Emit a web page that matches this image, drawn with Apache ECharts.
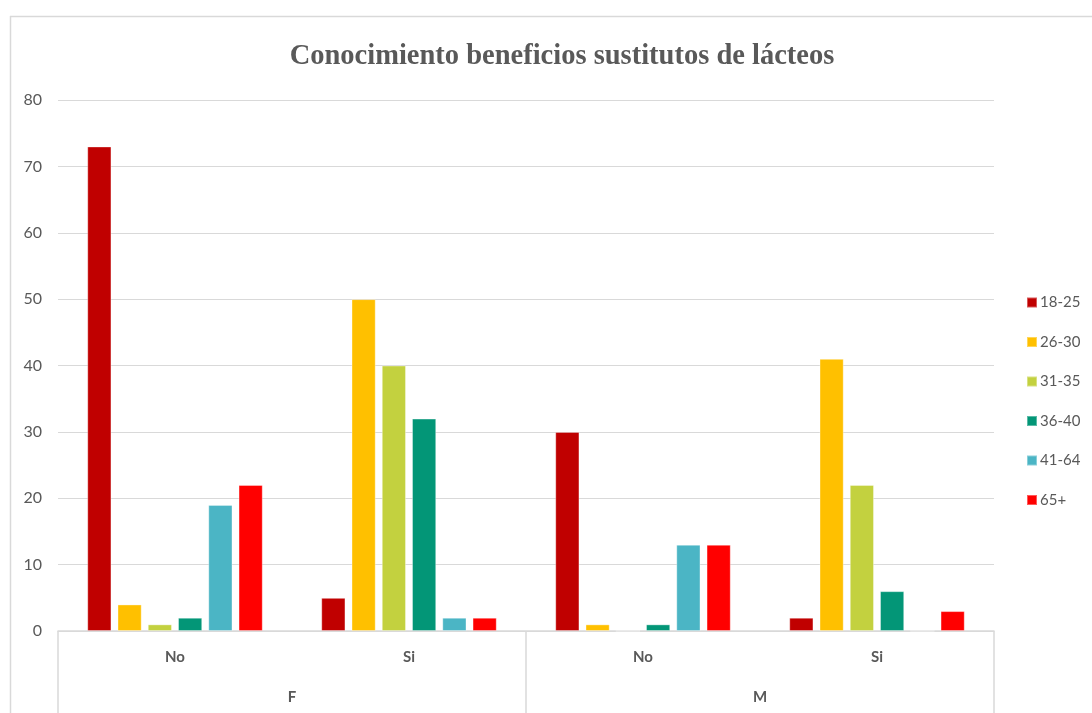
<!DOCTYPE html>
<html>
<head>
<meta charset="utf-8">
<title>Conocimiento beneficios sustitutos de lácteos</title>
<script src="https://cdn.jsdelivr.net/npm/echarts@6/dist/echarts.min.js"></script>
<style>
  html, body { margin: 0; padding: 0; background: #ffffff; }
  #chart { width: 1092px; height: 713px; }
</style>
</head>
<body>
<div id="chart"></div>
<script>
// Inner categories (answer) and outer groups (sex)
const answers = ['No', 'Si', 'No', 'Si'];
const sexGroups = ['F', 'M'];
const ageGroups = ['18-25', '26-30', '31-35', '36-40', '41-64', '65+'];

// Counts per age group, in order F-No, F-Si, M-No, M-Si
const age18_25 = [73, 5, 30, 2];
const age26_30 = [4, 50, 1, 41];
const age31_35 = [1, 40, 0, 22];
const age36_40 = [2, 32, 1, 6];
const age41_64 = [19, 2, 13, 0];
const age65plus = [22, 2, 13, 3];

const yTicks = { min: 0, max: 80, interval: 10 };

const seriesValues = [age18_25, age26_30, age31_35, age36_40, age41_64, age65plus];
const colors = ['#C00000', '#FFC000', '#C3D13F', '#039677', '#4BB5C5', '#FF0000'];

const chart = echarts.init(document.getElementById('chart'));
const textGray = '#595959';
const lineGray = '#D9D9D9';

chart.setOption({
  animation: false,
  color: colors,
  title: {
    text: 'Conocimiento beneficios sustitutos de lácteos',
    left: 557,
    textAlign: 'center',
    top: 37,
    textStyle: {
      fontFamily: 'Liberation Serif',
      fontWeight: 'bold',
      fontSize: 28.5,
      color: textGray
    }
  },
  graphic: [
    { type: 'line', shape: { x1: 10, y1: 16.5, x2: 1092, y2: 16.5 }, style: { stroke: lineGray, lineWidth: 1.5 } },
    { type: 'line', shape: { x1: 10.5, y1: 16, x2: 10.5, y2: 713 }, style: { stroke: lineGray, lineWidth: 1.5 } }
  ],
  legend: {
    orient: 'vertical',
    left: 1021,
    top: 290,
    itemWidth: 10,
    itemHeight: 10,
    itemGap: 24.5,
    icon: 'rect',
    textStyle: { fontFamily: 'Lato', fontSize: 15, color: textGray, padding: [0, 0, 0, -2] },
    data: ageGroups
  },
  grid: { left: 58, right: 98, top: 100, bottom: 82, containLabel: false },
  xAxis: [
    {
      type: 'category',
      data: answers,
      position: 'bottom',
      axisLine: { show: true, lineStyle: { color: lineGray, width: 1.5 } },
      axisTick: { show: false },
      axisLabel: {
        margin: 19,
        fontFamily: 'Lato',
        fontWeight: 'bold',
        fontSize: 15,
        color: textGray
      },
      splitLine: { show: false }
    },
    {
      type: 'category',
      data: sexGroups,
      position: 'bottom',
      axisLine: { show: false },
      axisTick: { show: true, length: 82, alignWithLabel: false, lineStyle: { color: lineGray, width: 1.5 } },
      axisLabel: {
        margin: 59,
        fontFamily: 'Lato',
        fontWeight: 'bold',
        fontSize: 15,
        color: textGray
      },
      splitLine: { show: false }
    }
  ],
  yAxis: {
    type: 'value',
    min: yTicks.min,
    max: yTicks.max,
    interval: yTicks.interval,
    axisLine: { show: false },
    axisTick: { show: false },
    axisLabel: { margin: 16, fontFamily: 'Lato', fontSize: 16, color: textGray },
    splitLine: { lineStyle: { color: lineGray, width: 1 } }
  },
  series: ageGroups.map((name, i) => ({
    name: name,
    type: 'bar',
    xAxisIndex: 0,
    data: seriesValues[i],
    barGap: '25%',
    barCategoryGap: '25%',
    itemStyle: { color: colors[i], borderColor: 'rgba(255,255,255,0.35)', borderWidth: 1 }
  }))
});
</script>
</body>
</html>
